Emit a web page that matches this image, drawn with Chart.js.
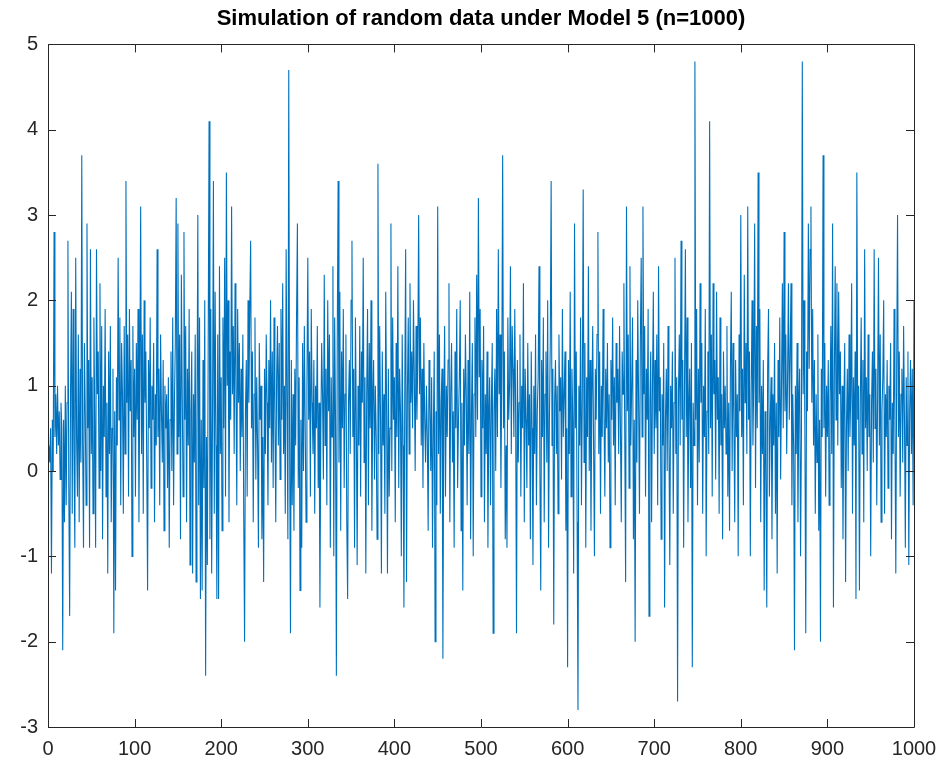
<!DOCTYPE html>
<html>
<head>
<meta charset="utf-8">
<script src="https://cdn.jsdelivr.net/npm/chart.js@4/dist/chart.umd.min.js"></script>
<style>
html,body{margin:0;padding:0;background:#fff;}
canvas{display:block;}
</style>
</head>
<body>
<canvas id="c" width="951" height="775"></canvas>
<script>
const titleText = "Simulation of random data under Model 5 (n=1000)";
const xTicks = [0,100,200,300,400,500,600,700,800,900,1000];
const yTicks = [-3,-2,-1,0,1,2,3,4,5];
const seriesValues = [
0.3,0.1,0.5,-1.2,0.6,0.0,2.8,0.4,0.9,0.2,
1.0,0.3,0.7,-0.1,0.8,0.5,-2.1,0.6,-0.6,1.0,
-0.4,0.8,2.7,-0.2,-1.7,0.9,2.1,-0.5,1.9,0.2,
-0.9,2.5,0.4,-0.3,1.6,-0.6,1.2,0.1,3.7,0.3,
-0.9,1.5,0.7,-0.4,2.9,0.5,1.3,-0.9,2.6,0.2,
1.1,-0.5,1.8,0.6,-0.9,2.6,0.9,1.4,-0.2,2.2,
0.0,1.7,-0.8,1.0,0.4,1.9,-0.3,0.8,-1.2,1.4,
0.2,1.7,-0.6,0.5,1.2,-1.9,0.7,-1.4,1.1,0.3,
2.5,0.6,1.8,-0.4,1.5,0.9,-0.5,1.7,0.2,3.4,
0.8,1.6,-0.3,1.9,0.7,1.3,-1.0,1.7,0.4,1.2,
-0.3,1.5,0.6,1.9,-0.6,1.0,3.1,0.2,1.6,-0.5,
2.0,0.8,1.4,0.1,-1.4,1.3,0.5,1.8,-0.2,1.0,
0.6,1.5,-0.6,0.9,0.3,2.6,0.4,1.2,-0.4,1.6,
0.7,0.1,1.3,-0.7,1.0,0.5,0.9,-0.2,1.1,-0.9,
0.6,1.4,0.0,1.8,-0.4,0.8,1.5,3.2,0.2,2.9,
0.4,1.6,-0.8,2.3,0.9,-0.3,2.8,0.6,1.7,-0.6,
1.2,0.3,1.9,-1.1,0.7,1.4,-1.2,0.9,0.1,1.6,
-1.3,0.5,3.0,-0.4,1.8,-1.5,0.6,-1.4,1.3,-0.2,
2.0,-2.4,0.4,-1.1,1.5,4.1,-0.8,1.9,-1.2,0.7,
3.4,-0.5,2.1,0.3,-1.5,1.6,-1.5,2.4,0.2,1.1,
-0.7,1.8,0.5,2.5,-0.3,3.5,1.0,2.0,-0.6,1.4,
0.6,3.1,0.9,1.7,0.2,2.2,1.1,-0.4,1.9,0.8,
1.5,0.0,1.2,0.4,1.6,-0.5,-2.0,0.7,1.3,-0.3,
2.0,0.8,1.9,2.7,0.5,1.4,-0.6,0.9,1.8,-0.1,
1.1,0.3,-0.9,1.5,0.6,1.0,-0.8,0.4,-1.3,1.2,
0.2,1.6,0.8,-0.4,1.3,0.5,2.0,0.1,1.4,-0.2,
1.8,0.7,-0.6,1.1,1.7,0.3,1.5,-0.1,1.9,0.6,
2.2,0.2,1.0,-0.5,2.6,0.8,-0.8,4.7,0.4,-1.9,
1.3,-0.4,0.9,-0.7,1.2,0.3,1.8,2.9,-0.2,1.1,
-1.4,0.6,-0.9,1.5,0.0,1.7,0.5,-0.6,1.0,2.5,
0.6,1.4,-0.3,1.9,0.8,0.2,1.3,-0.5,1.0,0.5,
1.7,-0.2,0.8,-1.6,0.4,1.5,0.9,-0.1,2.3,0.3,
1.2,-0.4,2.0,0.7,1.6,-0.9,1.1,0.4,2.4,-1.0,
1.8,0.6,-2.4,1.5,3.4,0.1,2.1,-0.7,1.4,0.5,
1.9,-0.2,0.9,1.6,-0.6,-1.5,0.8,1.3,0.2,2.0,
2.7,0.4,1.2,-0.9,1.8,0.6,-1.1,1.0,0.3,1.7,
-0.3,1.4,0.8,2.5,0.1,1.1,-1.2,0.9,1.9,-0.4,
1.5,0.5,2.0,-0.7,0.8,1.3,-0.1,1.0,0.4,-0.8,
3.6,0.2,1.7,0.6,-1.2,1.4,0.3,0.9,-0.5,2.1,
0.7,-1.2,1.2,-0.3,0.5,2.9,0.0,1.8,0.6,1.1,
-0.6,1.5,0.4,2.4,-0.2,1.2,0.7,-1.0,1.6,0.3,
-1.6,1.0,2.6,-1.3,0.9,1.8,0.2,2.2,0.8,1.4,
0.5,2.0,1.1,0.0,1.7,0.6,1.3,3.0,0.9,1.8,
0.3,1.2,-0.2,1.5,0.6,0.1,1.0,0.4,-0.7,1.3,
0.8,0.0,1.1,-0.9,0.5,1.4,-2.0,0.7,-0.4,3.1,
0.2,1.6,-0.5,0.8,1.2,-2.2,0.6,1.7,-0.3,1.0,
0.4,1.3,2.2,-0.6,0.9,1.5,0.1,0.7,-0.9,1.4,
0.5,1.9,-0.2,0.6,1.1,2.0,-0.7,0.8,-1.4,1.2,
0.3,1.6,0.9,-0.4,1.3,0.2,2.1,-0.8,0.7,1.5,
-1.0,0.9,1.8,0.4,2.3,0.6,3.2,1.1,1.9,-0.3,
1.3,0.5,1.7,-0.6,0.9,0.2,1.4,-0.9,0.6,1.1,
-0.4,0.8,1.5,-1.9,0.7,1.2,0.0,1.9,0.4,2.6,
0.9,1.6,-0.2,1.1,3.7,0.5,1.4,-0.8,0.3,-0.9,
1.8,0.6,1.0,2.4,0.2,1.7,1.2,0.4,1.9,0.7,
-1.9,1.3,0.1,0.8,1.6,-0.3,1.0,0.5,2.2,-0.6,
1.2,0.6,-0.2,1.5,0.3,0.9,-0.8,1.4,0.5,-1.1,
1.0,0.2,1.6,-0.4,0.7,1.1,2.4,0.0,-1.4,1.3,
0.4,1.8,-0.6,0.9,1.4,0.1,2.0,-0.9,0.6,1.5,
3.4,0.3,1.2,-1.8,0.8,1.3,0.2,1.0,-0.5,1.6,
0.7,1.1,-0.1,1.9,0.4,0.9,1.4,-0.7,0.5,-2.3,
1.3,0.2,2.1,-0.3,1.2,0.6,-1.2,2.9,0.5,1.4,
-0.6,-2.8,1.0,0.3,1.8,-0.4,0.9,3.3,0.1,1.5,
-0.9,1.1,0.4,2.4,0.0,1.3,-0.7,0.8,1.7,0.3,
-1.0,1.2,0.6,1.6,2.8,0.2,1.4,-0.5,1.0,0.4,
1.9,0.7,-0.3,1.2,0.5,1.5,0.1,0.9,-0.9,1.3,
0.6,1.8,0.3,1.1,-0.4,1.5,0.8,1.2,0.2,1.7,
0.5,-0.6,1.4,0.9,2.2,0.4,-1.3,3.1,0.7,1.6,
-0.2,2.4,0.3,1.0,1.8,-0.8,0.6,-2.0,1.3,0.1,
2.0,0.8,-0.5,1.5,2.5,0.4,3.1,0.9,1.7,-0.3,
1.2,0.6,1.9,-1.7,0.8,1.4,-0.6,1.0,2.1,0.2,
1.3,0.5,1.6,-0.4,2.4,0.7,1.1,-0.8,0.9,0.3,
1.5,-1.6,0.6,1.2,0.0,1.7,0.4,-1.1,1.0,0.5,
1.4,-0.5,0.8,2.5,0.2,1.1,-2.7,0.9,1.6,0.3,
2.7,0.6,1.3,-0.9,1.0,2.6,0.4,1.8,-0.6,0.7,
1.2,-0.2,1.5,-2.3,0.8,0.3,4.8,0.6,1.9,-0.4,
1.2,0.1,2.2,0.8,1.5,-0.5,1.0,0.4,1.9,-1.0,
0.7,1.4,0.2,4.1,0.5,1.6,-0.3,2.2,0.9,1.3,
-0.1,2.1,0.6,1.1,-0.5,1.8,0.3,0.9,-0.8,1.4,
0.5,1.0,0.2,1.7,-0.3,0.8,-0.7,1.2,2.1,0.0,
1.5,0.6,-0.6,1.3,0.4,0.9,-1.0,1.6,0.7,3.0,
0.4,1.2,-0.4,2.3,0.8,1.5,0.2,3.1,0.6,1.4,
-1.0,0.9,2.0,0.3,1.1,2.9,-0.2,1.7,0.5,3.5,
0.8,1.9,-0.6,1.0,0.2,1.3,-1.4,0.7,0.1,-1.6,
1.2,1.9,-0.3,0.6,1.1,-0.8,0.9,0.3,1.5,-0.5,
0.8,-1.2,1.3,0.4,1.8,-0.1,1.0,2.2,0.5,2.8,
0.7,1.6,0.2,1.1,2.2,0.6,1.4,2.2,-0.4,0.9,
0.3,-2.1,1.0,0.2,1.5,-0.6,0.8,1.2,-1.0,0.4,
4.8,0.9,2.0,0.5,-1.9,1.4,0.7,2.9,1.2,2.6,
3.1,0.8,1.9,0.3,1.3,-0.5,0.9,0.1,1.6,-0.7,
0.6,-2.0,1.2,0.4,3.7,0.5,1.5,-0.3,1.0,0.4,
1.3,-0.4,0.8,1.7,0.2,2.9,-1.6,1.1,2.4,0.6,
2.2,0.3,2.1,0.9,1.4,-0.2,1.0,-0.8,0.7,1.5,
-1.3,0.5,1.2,0.0,1.6,0.4,0.9,2.2,-0.5,1.1,
0.3,1.4,-1.5,3.5,0.6,1.0,-1.4,0.8,1.8,0.2,
1.3,-0.6,2.6,0.5,1.1,0.0,1.6,0.4,0.9,-1.0,
0.8,1.4,0.1,2.6,0.5,1.2,-0.4,0.9,2.5,0.3,
1.6,-0.6,0.7,1.1,2.0,-0.5,0.9,0.4,1.3,-0.2,
1.0,0.6,1.5,-0.8,0.8,0.2,1.9,0.5,-1.2,1.2,
3.0,0.4,1.4,-0.3,0.9,1.2,0.1,1.7,0.6,-0.9,
1.1,0.3,1.4,-1.1,0.7,1.3,0.2,1.2,-0.4,2.0
];

const axisColor = '#262626';
const fontFamily = '"Liberation Sans", Arial, Helvetica, sans-serif';

const boxPlugin = {
  id: 'matlabBox',
  afterDatasetsDraw(chart) {
    const {ctx, chartArea: a, scales} = chart;
    const tl = 8;
    ctx.save();
    ctx.strokeStyle = axisColor;
    ctx.lineWidth = 1;
    ctx.beginPath();
    ctx.rect(Math.round(a.left) + 0.5, Math.round(a.top) + 0.5, Math.round(a.right - a.left), Math.round(a.bottom - a.top));
    ctx.stroke();
    ctx.beginPath();
    xTicks.forEach(v => {
      const px = Math.round(scales.x.getPixelForValue(v)) + 0.5;
      ctx.moveTo(px, a.bottom); ctx.lineTo(px, a.bottom - tl);
      ctx.moveTo(px, a.top); ctx.lineTo(px, a.top + tl);
    });
    yTicks.forEach(v => {
      const py = Math.round(scales.y.getPixelForValue(v)) + 0.5;
      ctx.moveTo(a.left, py); ctx.lineTo(a.left + tl, py);
      ctx.moveTo(a.right, py); ctx.lineTo(a.right - tl, py);
    });
    ctx.stroke();
    ctx.restore();
  }
};

new Chart(document.getElementById('c'), {
  type: 'line',
  data: {
    datasets: [{
      data: seriesValues.map((v, i) => ({x: i + 1, y: v})),
      borderColor: '#0072BD',
      borderWidth: 1.1,
      pointRadius: 0,
      tension: 0,
      fill: false
    }]
  },
  options: {
    responsive: false,
    animation: false,
    devicePixelRatio: 1,
    layout: {padding: {left: 0, right: 37, top: 0, bottom: 0}},
    plugins: {
      legend: {display: false},
      tooltip: {enabled: false},
      title: {
        display: true,
        fullSize: false,
        text: titleText,
        color: '#000',
        font: {family: fontFamily, size: 22, weight: 'bold'},
        padding: {top: 6, bottom: 12}
      }
    },
    scales: {
      x: {
        type: 'linear',
        min: 0, max: 1000,
        afterBuildTicks(s) { s.ticks = xTicks.map(v => ({value: v})); },
        ticks: {
          color: axisColor, font: {family: fontFamily, size: 20}, padding: 10, maxRotation: 0, autoSkip: false,
          callback: v => String(v)
        },
        grid: {display: false, drawTicks: false},
        border: {display: false},
        afterFit(s) { s.height = 48; }
      },
      y: {
        type: 'linear',
        min: -3, max: 5,
        afterBuildTicks(s) { s.ticks = yTicks.map(v => ({value: v})); },
        ticks: {
          color: axisColor, font: {family: fontFamily, size: 20}, padding: 10, autoSkip: false,
          callback: v => String(v)
        },
        grid: {display: false, drawTicks: false},
        border: {display: false},
        afterFit(s) { s.width = 48; }
      }
    }
  },
  plugins: [boxPlugin]
});
</script>
</body>
</html>
